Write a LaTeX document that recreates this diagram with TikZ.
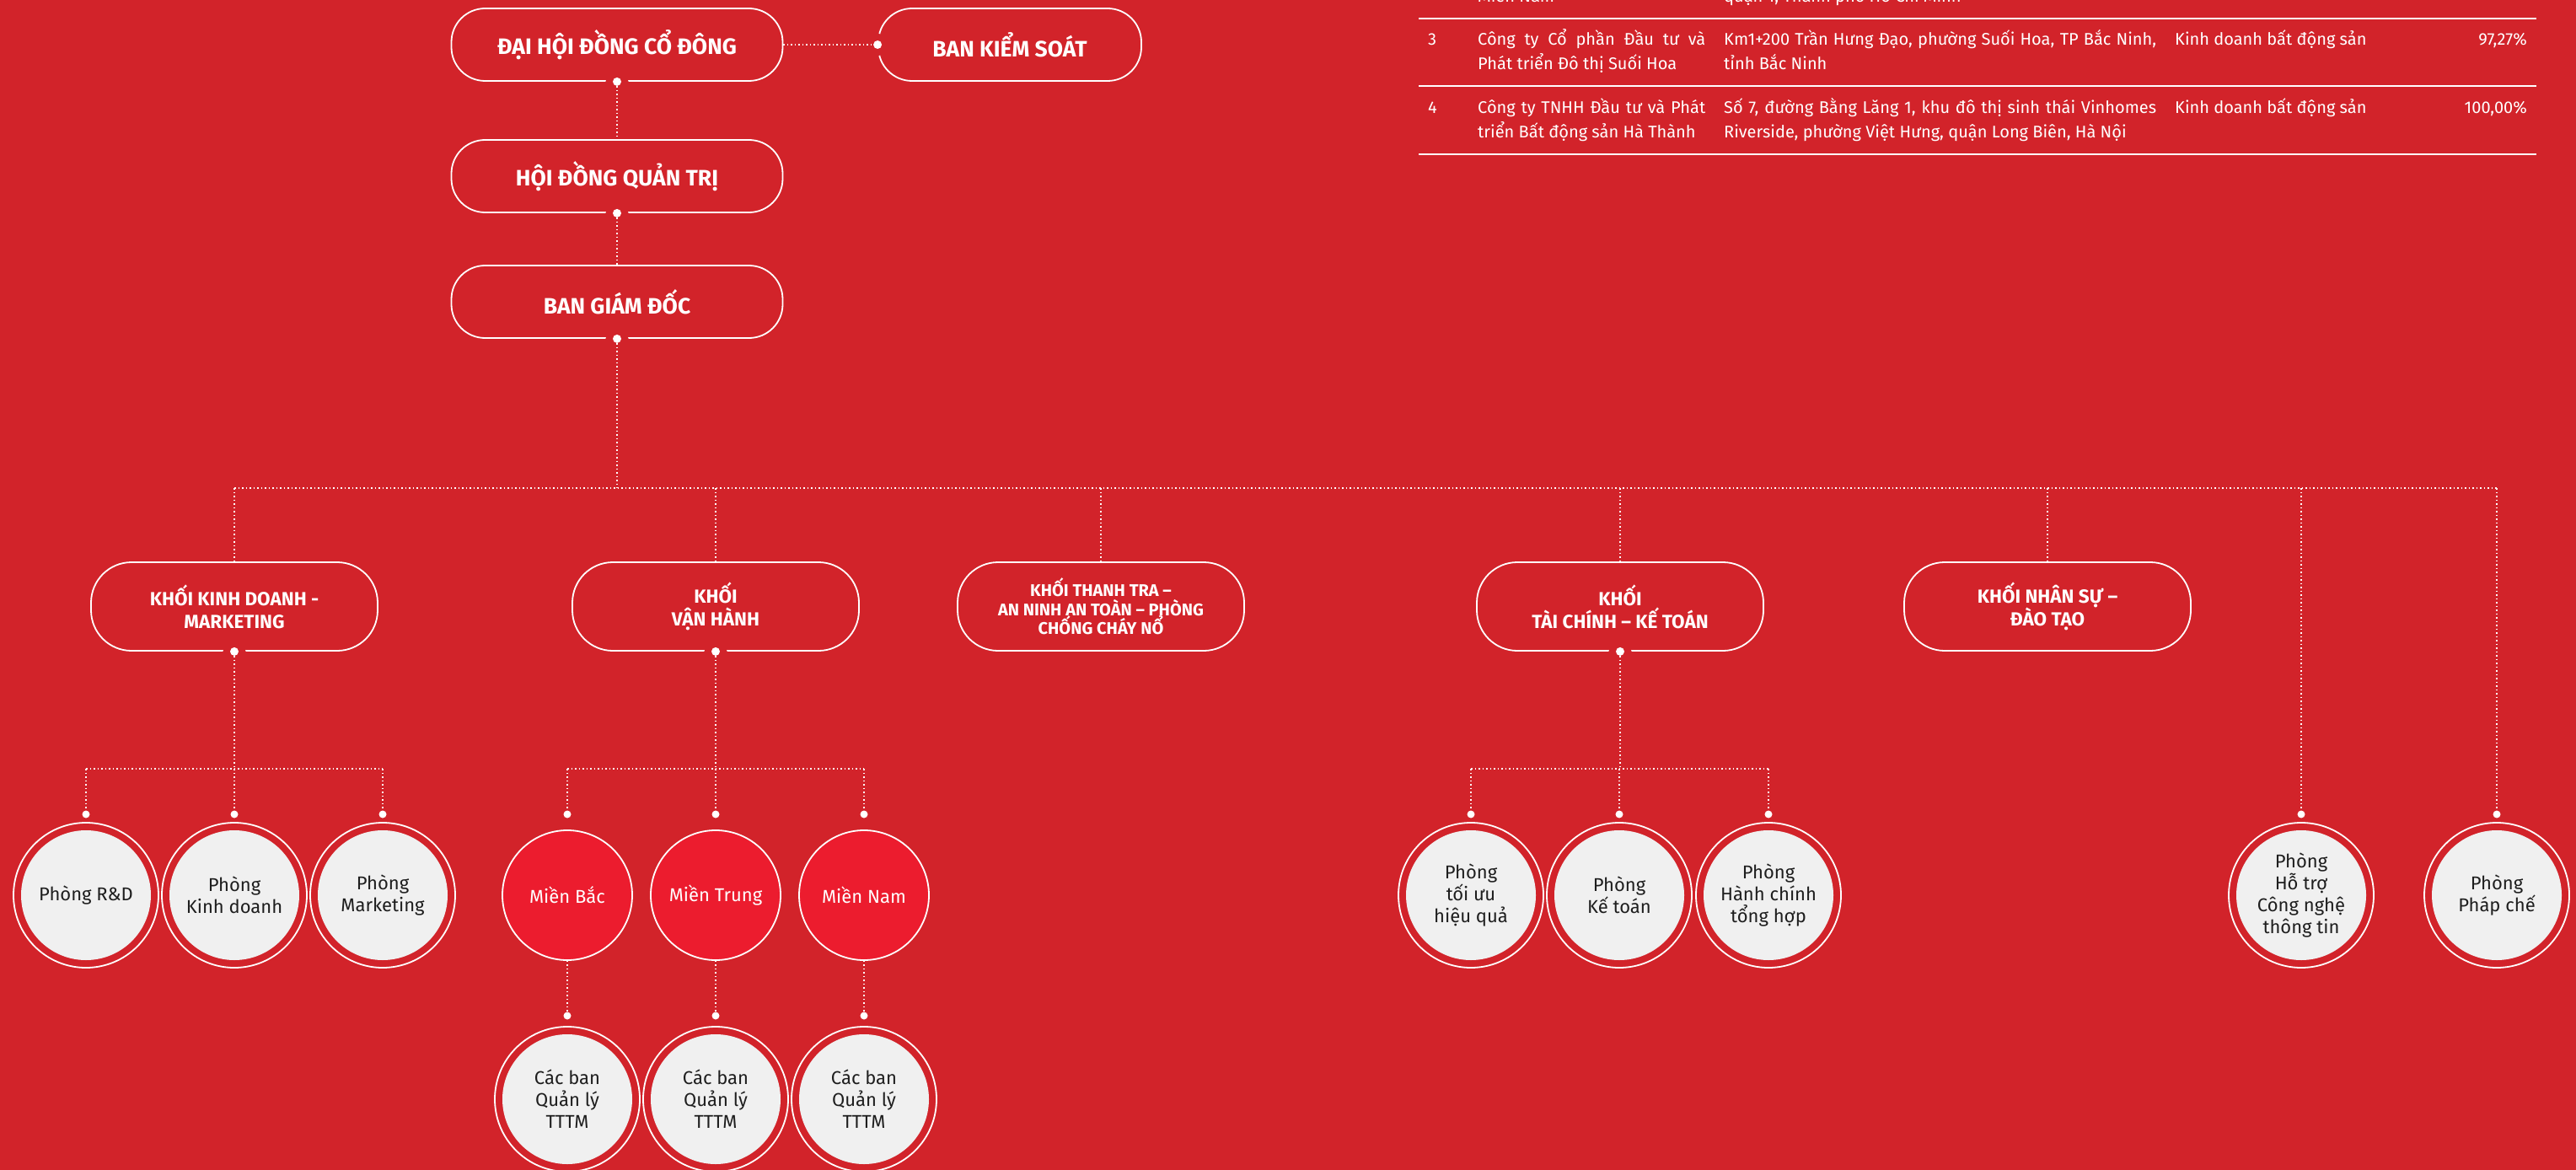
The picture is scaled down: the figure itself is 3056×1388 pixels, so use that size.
\documentclass[tikz,border=0pt]{standalone}
\usepackage{fontspec}
\setmainfont{Fira Sans}
\definecolor{bg}{HTML}{D2232A}
\definecolor{mien}{HTML}{EC1C2E}
\definecolor{pale}{HTML}{F0F0F0}
\definecolor{ink}{HTML}{1E1E1E}
\begin{document}
\begin{tikzpicture}[x=1pt,y=-1pt,
  conn/.style={white, line width=1.5pt, dash pattern=on 1.5pt off 3pt},
  topbox/.style={draw=white, line width=1.8pt, rounded corners=40pt, minimum width=393pt, minimum height=86pt, text=white, font=\fontsize{26.5}{30}\selectfont\bfseries, align=center, inner sep=0pt},
  khoi/.style={draw=white, line width=1.8pt, rounded corners=48pt, minimum width=340pt, minimum height=105pt, text=white, font=\fontsize{22.5}{27}\selectfont\bfseries, align=center, inner sep=0pt},
  halodot/.style={circle, fill=white, inner sep=0pt, minimum size=10pt, preaction={draw=bg, line width=16pt}},
  sdot/.style={circle, fill=white, inner sep=0pt, minimum size=9pt},
  phong/.style={circle, fill=pale, inner sep=0pt, minimum size=154pt, text=ink, font=\fontsize{22}{26}\selectfont, align=center},
  mien/.style={circle, fill=mien, draw=white, line width=1.8pt, inner sep=0pt, minimum size=154pt, text=white, font=\fontsize{22}{26}\selectfont, align=center},
  ring/.style={white, line width=1.8pt},
  tbl/.style={text=white, font=\fontsize{20}{24}\selectfont, inner sep=0pt, anchor=base west},
  tline/.style={white, line width=2.2pt}
]
\useasboundingbox (0,0) rectangle (3056,1388);
\fill[bg] (0,0) rectangle (3056,1388);

% ---------- table ----------
\node[tbl] (t0a) at (1753,3) {Miền Nam};
\node[tbl] (t0b) at (2045,3) {quận 1, Thành phố Hồ Chí Minh};
\draw[tline] (1683,22) -- (3009,22);
\node[tbl] (t3a) at (1694,54) {3};
\node[tbl] (t3b) at (1753,54) {\makebox[270pt][s]{Công ty Cổ phần Đầu tư và}};
\node[tbl] (t3c) at (1753,83) {Phát triển Đô thị Suối Hoa};
\node[tbl] (t3d) at (2045,54) {\makebox[513pt][s]{Km1+200 Trần Hưng Đạo, phường Suối Hoa, TP Bắc Ninh,}};
\node[tbl] (t3e) at (2045,83) {tỉnh Bắc Ninh};
\node[tbl] (t3f) at (2580,54) {Kinh doanh bất động sản};
\node[tbl, anchor=base east] (t3g) at (2998,54) {97,27\%};
\draw[tline] (1683,102) -- (3009,102);
\node[tbl] (t4a) at (1694,135) {4};
\node[tbl] (t4b) at (1753,135) {\makebox[270pt][s]{Công ty TNHH Đầu tư và Phát}};
\node[tbl] (t4c) at (1753,164) {triển Bất động sản Hà Thành};
\node[tbl] (t4d) at (2045,135) {\makebox[513pt][s]{Số 7, đường Bằng Lăng 1, khu đô thị sinh thái Vinhomes}};
\node[tbl] (t4e) at (2045,164) {Riverside, phường Việt Hưng, quận Long Biên, Hà Nội};
\node[tbl] (t4f) at (2580,135) {Kinh doanh bất động sản};
\node[tbl, anchor=base east] (t4g) at (2998,135) {100,00\%};
\draw[tline] (1683,183) -- (3009,183);

% ---------- top boxes ----------
\node[topbox] (dhcd) at (732,53) {ĐẠI HỘI ĐỒNG CỔ ĐÔNG};
\node[topbox, minimum width=312pt] (bks) at (1198,53) {BAN KIỂM SOÁT};
\node[topbox] (hdqt) at (732,209) {HỘI ĐỒNG QUẢN TRỊ};
\node[topbox] (bgd) at (732,358) {BAN GIÁM ĐỐC};

\node[halodot] (ddhcd) at (dhcd.south) {};
\node[halodot] (dbks) at (bks.west) {};
\node[halodot] (dhdqt) at (hdqt.south) {};
\node[halodot] (dbgd) at (bgd.south) {};

\draw[conn] (dhcd.east) -- (dbks);
\draw[conn] (ddhcd) -- (hdqt.north);
\draw[conn] (dhdqt) -- (bgd.north);

% ---------- khoi ----------
\node[khoi] (kkd) at (278,719.5) {KHỐI KINH DOANH -\\MARKETING};
\node[khoi] (kvh) at (849,719.5) {KHỐI\\VẬN HÀNH};
\node[khoi, font=\fontsize{20}{22.5}\selectfont\bfseries] (ktt) at (1306,719.5) {KHỐI THANH TRA –\\AN NINH AN TOÀN – PHÒNG\\CHỐNG CHÁY NỔ};
\node[khoi] (ktc) at (1922,719.5) {KHỐI\\TÀI CHÍNH – KẾ TOÁN};
\node[khoi] (kns) at (2429,719.5) {KHỐI NHÂN SỰ –\\ĐÀO TẠO};

\node[halodot] (dkd) at (kkd.south) {};
\node[halodot] (dvh) at (kvh.south) {};
\node[halodot] (dtc) at (ktc.south) {};

% ---------- level 3 ----------
\node[phong] (rd) at (102,1062) {Phòng R\&D};
\node[phong] (kd) at (278,1062) {Phòng\\Kinh doanh};
\node[phong] (mk) at (454,1062) {Phòng\\Marketing};
\node[mien] (mb) at (673,1062) {Miền Bắc};
\node[mien] (mt) at (849,1062) {Miền Trung};
\node[mien] (mn) at (1025,1062) {Miền Nam};
\node[phong] (tu) at (1745,1062) {Phòng\\tối ưu\\hiệu quả};
\node[phong] (kt) at (1921,1062) {Phòng\\Kế toán};
\node[phong] (hc) at (2098,1062) {Phòng\\Hành chính\\tổng hợp};
\node[phong] (ht) at (2730,1062) {Phòng\\Hỗ trợ\\Công nghệ\\thông tin};
\node[phong] (pc) at (2962,1062) {Phòng\\Pháp chế};
\node[phong] (cb1) at (673,1304) {Các ban\\Quản lý\\TTTM};
\node[phong] (cb2) at (849,1304) {Các ban\\Quản lý\\TTTM};
\node[phong] (cb3) at (1025,1304) {Các ban\\Quản lý\\TTTM};
\foreach \n in {rd,kd,mk,tu,kt,hc,ht,pc,cb1,cb2,cb3}
  \draw[ring] (\n.center) circle (86pt);

\coordinate (bus1) at (0,579);
\coordinate (bus2) at (0,912);
\coordinate (lv3) at (0,966);
\coordinate (lv4) at (0,1205);
\foreach \n in {rd,kd,mk,mb,mt,mn,tu,kt,hc,ht,pc}
  \node[sdot] (\n-d) at (\n |- lv3) {};
\foreach \n in {cb1,cb2,cb3}
  \node[sdot] (\n-d) at (\n |- lv4) {};

% ---------- connectors ----------
\draw[conn] (dbgd) -- (dbgd |- bus1);
\draw[conn] (kkd.north |- bus1) -- (pc-d |- bus1);
\foreach \k in {kkd,kvh,ktt,ktc,kns}
  \draw[conn] (\k.north |- bus1) -- (\k.north);
\foreach \n in {ht,pc}
  \draw[conn] (\n-d |- bus1) -- (\n-d);

\draw[conn] (dkd) -- (dkd |- bus2);
\draw[conn] (rd-d |- bus2) -- (mk-d |- bus2);
\foreach \n in {rd,kd,mk}
  \draw[conn] (\n-d |- bus2) -- (\n-d);

\draw[conn] (dvh) -- (dvh |- bus2);
\draw[conn] (mb-d |- bus2) -- (mn-d |- bus2);
\foreach \n in {mb,mt,mn}
  \draw[conn] (\n-d |- bus2) -- (\n-d);

\draw[conn] (dtc) -- (dtc |- bus2);
\draw[conn] (tu-d |- bus2) -- (hc-d |- bus2);
\foreach \n in {tu,kt,hc}
  \draw[conn] (\n-d |- bus2) -- (\n-d);

\draw[conn] (mb.south) -- (cb1-d);
\draw[conn] (mt.south) -- (cb2-d);
\draw[conn] (mn.south) -- (cb3-d);
\end{tikzpicture}
\end{document}
